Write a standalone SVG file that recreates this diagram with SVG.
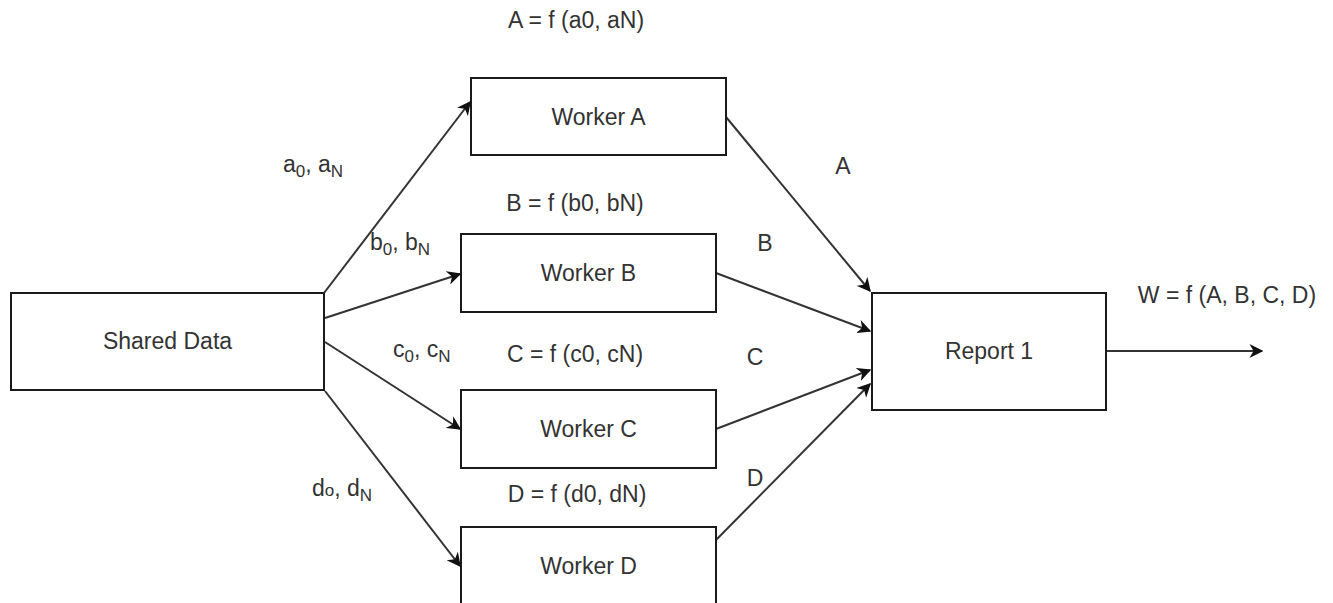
<svg xmlns="http://www.w3.org/2000/svg" width="1333" height="603" viewBox="0 0 1333 603">
  <style>
    .box { fill: #ffffff; stroke: #1a1a1a; stroke-width: 2; }
    .lbl { font-family: "Liberation Sans", Arial, sans-serif; font-size: 23px; fill: #333333; }
    .mid { text-anchor: middle; }
    .sub { font-size: 17px; }
    .edge { fill: none; stroke: #333333; stroke-width: 2; marker-end: url(#arrow); }
  </style>
  <defs>
    <marker id="arrow" viewBox="0 0 10 10" refX="9" refY="5" markerWidth="7" markerHeight="7" orient="auto" markerUnits="strokeWidth">
      <path d="M0,0 L10,5 L0,10 L3,5 Z" fill="#111111"/>
    </marker>
  </defs>
  <rect width="1333" height="603" fill="#ffffff"/>

  <g id="connectors">
    <line class="edge" x1="324" y1="293" x2="470" y2="102"/>
    <line class="edge" x1="325" y1="318" x2="460" y2="274"/>
    <line class="edge" x1="325" y1="342" x2="460" y2="429"/>
    <line class="edge" x1="325" y1="391" x2="460" y2="566"/>
    <line class="edge" x1="726" y1="117" x2="870" y2="291"/>
    <line class="edge" x1="716" y1="273" x2="870" y2="331"/>
    <line class="edge" x1="716" y1="429" x2="870" y2="370"/>
    <line class="edge" x1="716" y1="540" x2="870" y2="384"/>
    <line class="edge" x1="1106" y1="351" x2="1262" y2="351"/>
  </g>

  <g id="shared-data">
    <rect class="box" x="11" y="293" width="313" height="97"/>
    <text class="lbl mid" x="167.5" y="349">Shared Data</text>
  </g>
  <g id="worker-a">
    <rect class="box" x="471" y="78" width="255" height="77"/>
    <text class="lbl mid" x="598.5" y="125">Worker A</text>
  </g>
  <g id="worker-b">
    <rect class="box" x="461" y="234" width="255" height="78"/>
    <text class="lbl mid" x="588.5" y="281">Worker B</text>
  </g>
  <g id="worker-c">
    <rect class="box" x="461" y="390" width="255" height="78"/>
    <text class="lbl mid" x="588.5" y="437">Worker C</text>
  </g>
  <g id="worker-d">
    <rect class="box" x="461" y="527" width="255" height="90"/>
    <text class="lbl mid" x="588.5" y="574">Worker D</text>
  </g>
  <g id="report-1">
    <rect class="box" x="872" y="293" width="234" height="117"/>
    <text class="lbl mid" x="989" y="359">Report 1</text>
  </g>

  <g id="labels">
    <text class="lbl mid" x="576" y="28">A = f (a0, aN)</text>
    <text class="lbl mid" x="575" y="211">B = f (b0, bN)</text>
    <text class="lbl mid" x="575" y="362">C = f (c0, cN)</text>
    <text class="lbl mid" x="577" y="502">D = f (d0, dN)</text>
    <text class="lbl mid" x="1227" y="303">W = f (A, B, C, D)</text>
    <text class="lbl mid" x="843" y="174">A</text>
    <text class="lbl mid" x="765" y="251">B</text>
    <text class="lbl mid" x="755" y="365">C</text>
    <text class="lbl mid" x="755" y="486">D</text>
    <text class="lbl" x="283" y="172">a<tspan class="sub" dy="5">0</tspan><tspan dy="-5">, a</tspan><tspan class="sub" dy="5">N</tspan></text>
    <text class="lbl" x="370" y="250">b<tspan class="sub" dy="5">0</tspan><tspan dy="-5">, b</tspan><tspan class="sub" dy="5">N</tspan></text>
    <text class="lbl" x="393" y="357">c<tspan class="sub" dy="5">0</tspan><tspan dy="-5">, c</tspan><tspan class="sub" dy="5">N</tspan></text>
    <text class="lbl" x="312" y="496">d<tspan class="sub">o</tspan>, d<tspan class="sub" dy="5">N</tspan></text>
  </g>
</svg>
